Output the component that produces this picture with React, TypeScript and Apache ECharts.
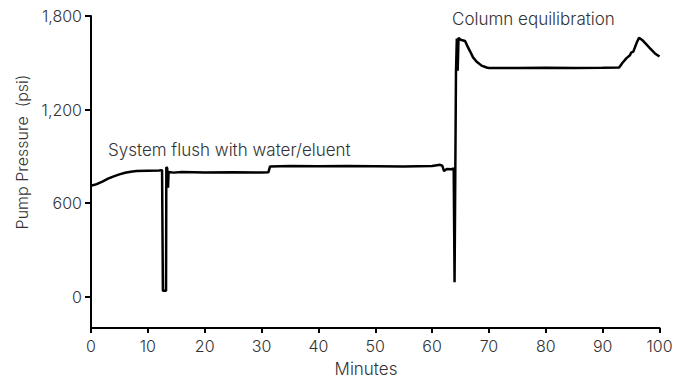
import React, { useEffect, useRef } from "react";
import * as echarts from "echarts";

const minutes = [
  0, 1, 2, 3, 4, 5, 6, 7, 8, 10, 12, 12.5, 12.6, 12.65, 13.2, 13.25, 13.4, 13.55, 13.65, 14.5,
  16, 20, 25, 30, 31.2, 31.5, 35, 40, 45, 50, 55, 60, 61.4, 61.8, 62.1, 62.6, 63.4, 63.8, 63.95,
  64.2, 64.35, 64.5, 64.65, 65, 65.8, 66.3, 66.7, 67.2, 67.8, 68.7, 69.6, 70, 75, 80, 85, 90,
  92.9, 93.5, 94.2, 94.8, 95.0, 95.4, 96, 96.4, 97, 98.3, 99.2, 100,
];
const pressure = [
  712, 722, 738, 757, 772, 785, 795, 802, 806, 808, 810, 812, 812, 38, 38, 830, 826, 700, 800, 796,
  800, 796, 798, 797, 798, 836, 838, 837, 838, 837, 836, 838, 846, 840, 806, 820, 818, 822, 94,
  1440, 1655, 1450, 1660, 1648, 1640, 1600, 1572, 1535, 1508, 1482, 1470, 1467, 1467, 1468, 1466, 1468,
  1470, 1500, 1530, 1548, 1565, 1572, 1630, 1660, 1645, 1594, 1560, 1540,
];
const yTicks = [0, 600, 1200, 1800];
const annotations = ["System flush with water/eluent", "Column equilibration"];
const yAxisTitle = "Pump Pressure  (psi)";
const xAxisTitle = "Minutes";

const FONT = "Inter, 'Liberation Sans', Arial, sans-serif";
const TEXT = "#333";

export default function App() {
  const ref = useRef<HTMLDivElement>(null);
  useEffect(() => {
    if (!ref.current) return;
    const chart = echarts.init(ref.current, null, { renderer: "svg" });
    const data = minutes.map((m, i) => [m, pressure[i]]);
    chart.setOption({
      animation: false,
      backgroundColor: "#fff",
      grid: { left: 91, right: 21.5, top: 16, bottom: 51, containLabel: false },
      xAxis: {
        type: "value",
        min: 0,
        max: 100,
        interval: 10,
        splitLine: { show: false },
        axisLine: { show: true, onZero: false, lineStyle: { color: "#000", width: 2 } },
        axisTick: { show: true, length: 5, lineStyle: { color: "#000", width: 2 } },
        axisLabel: { color: TEXT, fontSize: 16, fontFamily: FONT, fontWeight: 300, margin: 10 },
      },
      yAxis: {
        type: "value",
        min: -200,
        max: 1800,
        splitLine: { show: false },
        axisLine: { show: true, onZero: false, lineStyle: { color: "#000", width: 2 } },
        axisTick: {
          show: true,
          length: 6,
          customValues: yTicks,
          lineStyle: { color: "#000", width: 2 },
        },
        axisLabel: {
          color: TEXT,
          fontSize: 16,
          fontFamily: FONT,
          fontWeight: 300,
          margin: 9,
          customValues: yTicks,
          formatter: (v: number) => v.toLocaleString("en-US"),
        },
      },
      series: [
        {
          type: "line",
          data,
          showSymbol: false,
          symbol: "none",
          lineStyle: { color: "#000", width: 2.5 },
        },
      ],
      graphic: [
        {
          type: "text",
          left: 108,
          top: 141,
          style: { text: annotations[0], fill: TEXT, font: `300 17px ${FONT}` },
        },
        {
          type: "text",
          left: 452,
          top: 10,
          style: { text: annotations[1], fill: TEXT, font: `300 17px ${FONT}` },
        },
        {
          type: "text",
          x: 366,
          y: 369,
          style: {
            text: xAxisTitle,
            fill: TEXT,
            font: `300 17px ${FONT}`,
            align: "center",
            verticalAlign: "middle",
          },
        },
        {
          type: "text",
          x: 22,
          y: 152,
          rotation: Math.PI / 2,
          style: {
            text: yAxisTitle,
            fill: TEXT,
            font: `300 16px ${FONT}`,
            align: "center",
            verticalAlign: "middle",
          },
        },
      ],
    });
    return () => chart.dispose();
  }, []);
  return <div ref={ref} style={{ width: 681, height: 379, position: "absolute", left: 0, top: 0 }} />;
}
